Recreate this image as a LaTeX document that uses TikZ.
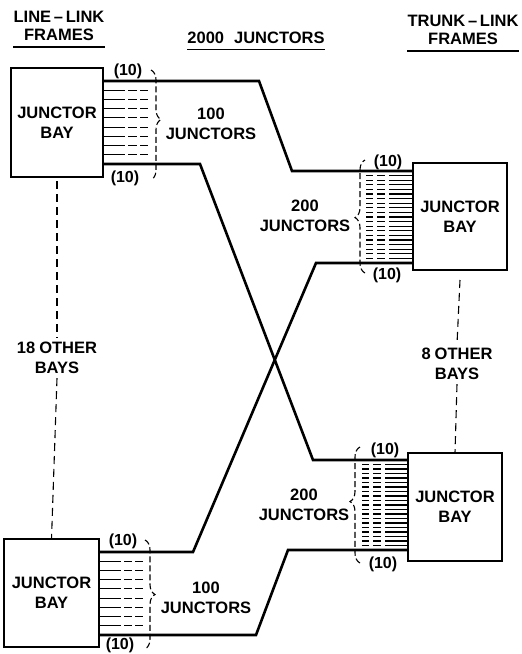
\documentclass[tikz,border=0pt]{standalone}
\usepackage{fontspec}
\setmainfont{Liberation Sans}
\usetikzlibrary{decorations.pathreplacing}
\begin{document}
\begin{tikzpicture}[x=1pt,y=-1pt,
  lbl/.style={inner sep=0pt, align=center, font=\fontsize{16.5}{20}\selectfont\bfseries},
  hdr/.style={inner sep=0pt, align=center, font=\fontsize{16.5}{18}\selectfont\bfseries},
  cnt/.style={inner sep=0pt, font=\fontsize{16}{18}\selectfont\bfseries},
  bay/.style={draw, line width=1.5pt, outer sep=0pt, inner sep=0pt, align=center,
              font=\fontsize{16.5}{20}\selectfont\bfseries},
  trunkline/.style={line width=2.6pt, line join=miter},
  wire/.style={line width=1.1pt},
  uline/.style={line width=1.4pt},
  otherb/.style={line width=1.1pt, dash pattern=on 8pt off 5pt},
  brc/.style={decorate, line width=1.1pt, dash pattern=on 6pt off 3pt}
]
\useasboundingbox (0,0) rectangle (522,654);

% headers
\node[hdr] (hl) at (59,26) {LINE\,--\,LINK\\FRAMES};
\node[hdr] (hm) at (256,37.5) {2000\hspace{10pt}JUNCTORS};
\node[hdr] (hr) at (463,30) {TRUNK\,--\,LINK\\FRAMES};
\draw[uline] ([yshift=-6pt]hl.south west) -- ([yshift=-6pt]hl.south east);
\draw[uline] ([yshift=-6pt]hm.south west) -- ([yshift=-6pt]hm.south east);
\draw[uline] ([yshift=-6pt]hr.south west) -- ([yshift=-6pt]hr.south east);

% bays
\node[bay, minimum width=92pt, minimum height=109pt] (ltb) at (57,122.5) {JUNCTOR\\BAY};
\node[bay, minimum width=95pt, minimum height=108pt] (llb) at (51.5,593) {JUNCTOR\\BAY};
\node[bay, minimum width=94pt, minimum height=107pt] (rtb) at (460,216.5) {JUNCTOR\\BAY};
\node[bay, minimum width=94pt, minimum height=108pt] (rlb) at (455,507) {JUNCTOR\\BAY};

% other bays
\node[lbl, inner sep=4pt] (ob1) at (57,358) {18\hspace{4pt}OTHER\\BAYS};
\node[lbl, inner sep=4pt] (ob2) at (457,364) {8\hspace{4pt}OTHER\\BAYS};
\draw[otherb] ([yshift=-4pt]ltb.south) -- (ob1.north);
\draw[otherb] (ob1.south) -- (llb.north);
\draw[otherb] ([yshift=-10pt]rtb.south) -- (ob2.north);
\draw[otherb] (ob2.south) -- (rlb.north);

% junctor counts
\node[lbl] (j1) at (211,124) {100\\JUNCTORS};
\node[lbl] (j2) at (206,597.5) {100\\JUNCTORS};
\node[lbl] (j3) at (305,215.5) {200\\JUNCTORS};
\node[lbl] (j4) at (304,504.5) {200\\JUNCTORS};

% (10) labels
\node[cnt] (t1) at (128,71) {(10)};
\node[cnt] (t2) at (125,178) {(10)};
\node[cnt] (t3) at (123,541) {(10)};
\node[cnt] (t4) at (120,645) {(10)};
\node[cnt] (t5) at (388,162) {(10)};
\node[cnt] (t6) at (387,275) {(10)};
\node[cnt] (t7) at (385,450) {(10)};
\node[cnt] (t8) at (383,564) {(10)};

% corner coordinates of the trunk paths
\coordinate (a1) at (259,81);  \coordinate (a2) at (292,171);
\coordinate (b1) at (200,164); \coordinate (b2) at (313,460);
\coordinate (c1) at (316,263); \coordinate (c2) at (193,552);
\coordinate (d1) at (256,635); \coordinate (d2) at (288,550);

\draw[trunkline] (ltb.east |- a1) -- (a1) -- (a2) -- (rtb.west |- a2);
\draw[trunkline] (ltb.east |- b1) -- (b1) -- (b2) -- (rlb.west |- b2);
\draw[trunkline] (rtb.west |- c1) -- (c1) -- (c2) -- (llb.east |- c2);
\draw[trunkline] (llb.east |- d1) -- (d1) -- (d2) -- (rlb.west |- d2);

% junctor wires, left bays (8 each)
\foreach \i in {1,...,8} {
  \pgfmathsetmacro{\yy}{81+\i*83/9}
  \draw[wire] (103,\yy) -- (125,\yy);
  \draw[wire] (128,\yy) -- (137,\yy);
  \draw[wire] (140,\yy) -- (148,\yy);
  \pgfmathsetmacro{\yb}{552+\i*83/9}
  \draw[wire] (99,\yb) -- (121,\yb);
  \draw[wire] (124,\yb) -- (132,\yb);
  \draw[wire] (135,\yb) -- (143,\yb);
}
% junctor wires, right bays (19 each)
\foreach \i in {1,...,19} {
  \pgfmathsetmacro{\yy}{171+\i*92/20}
  \draw[wire] (366,\yy) -- (373,\yy);
  \draw[wire] (377,\yy) -- (385,\yy);
  \draw[wire] (389,\yy) -- (413,\yy);
  \pgfmathsetmacro{\yb}{460+\i*90/20}
  \draw[wire] (362,\yb) -- (369,\yb);
  \draw[wire] (373,\yb) -- (381,\yb);
  \draw[wire] (385,\yb) -- (408,\yb);
}

% braces
\draw[brc, decoration={brace, amplitude=10pt, aspect=0.45}] (151,70) -- (151,180);
\draw[brc, decoration={brace, amplitude=10pt, aspect=0.5}] (145,540) -- (145,649);
\draw[brc, decoration={brace, amplitude=10pt, aspect=0.49}] (365,273) -- (365,160);
\draw[brc, decoration={brace, amplitude=10pt, aspect=0.53}] (360,563) -- (360,447);
\end{tikzpicture}
\end{document}
